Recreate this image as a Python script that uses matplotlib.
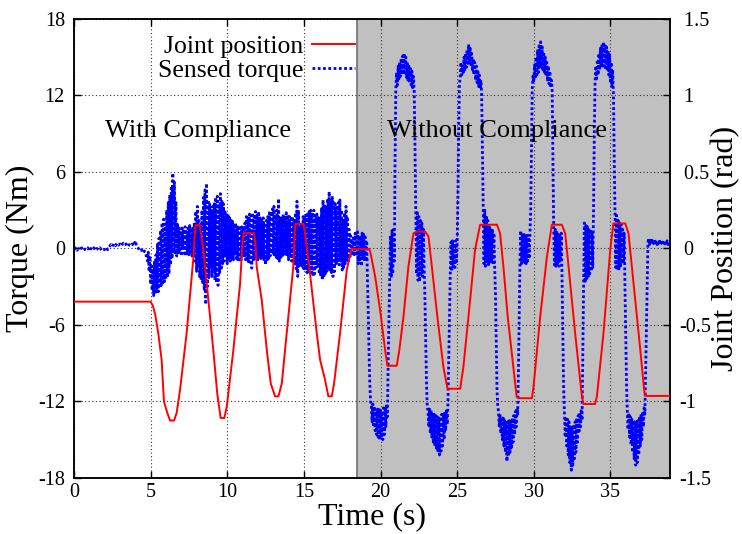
import matplotlib
matplotlib.use('Agg')
import matplotlib.pyplot as plt
import numpy as np

plt.rcParams['font.family'] = ['Liberation Serif', 'DejaVu Serif']
plt.rcParams['axes.unicode_minus'] = False

# joint position (rad), red curve
pos_t = [0.0, 5.0, 5.15, 5.3, 5.5, 5.72, 5.87, 6.09, 6.27, 6.53, 6.7, 6.92, 7.35, 7.6, 7.8,
         7.9, 7.96, 8.2, 8.28, 8.44, 8.77, 9.09, 9.35, 9.57, 9.81, 9.97, 10.4, 10.84, 11.0,
         11.07, 11.75, 11.85, 11.92, 12.25, 12.58, 12.84, 13.12, 13.34, 13.56, 13.88, 14.31,
         14.4, 14.45, 14.97, 15.05, 15.2, 15.35, 15.84, 16.06, 16.38, 16.6, 16.82, 16.97,
         17.36, 17.8, 18.1, 19.25, 19.32, 19.65, 19.97, 20.3, 20.45, 21.06, 21.23, 21.5,
         21.82, 22.15, 22.37, 22.91, 23.13, 23.35, 23.71, 24.1, 24.37, 25.2, 25.41, 25.74,
         26.17, 26.5, 27.6, 27.8, 28.02, 28.3, 28.88, 29.0, 29.88, 29.98, 30.42, 30.86,
         31.18, 31.83, 32.05, 32.27, 32.7, 33.14, 33.25, 34.0, 34.12, 34.55, 34.99, 35.2,
         35.97, 36.18, 36.51, 36.95, 37.21, 37.27, 38.9]
pos_rad = [-0.348, -0.348, -0.375, -0.433, -0.554, -0.729, -1.0, -1.075, -1.125, -1.125,
           -1.075, -0.925, -0.554, -0.275, -0.05, 0.133, 0.154, 0.154, 0.1, -0.008, -0.337,
           -0.663, -0.95, -1.108, -1.108, -1.033, -0.663, -0.228, 0.05, 0.1, 0.1, 0.017,
           -0.119, -0.337, -0.663, -0.883, -0.967, -0.967, -0.883, -0.554, -0.119, 0.1,
           0.16, 0.16, 0.117, 0.0, -0.119, -0.554, -0.729, -0.858, -0.967, -0.967, -0.883,
           -0.554, -0.141, -0.004, -0.004, -0.017, -0.183, -0.4, -0.663, -0.767, -0.767,
           -0.663, -0.446, -0.119, 0.099, 0.11, 0.11, 0.078, -0.119, -0.446, -0.773, -0.917,
           -0.917, -0.773, -0.446, -0.008, 0.155, 0.155, 0.099, -0.119, -0.446, -0.967,
           -0.979, -0.979, -0.908, -0.446, -0.053, 0.155, 0.155, 0.099, -0.119, -0.554,
           -0.967, -1.017, -1.017, -0.967, -0.554, -0.008, 0.163, 0.163, 0.099, -0.228,
           -0.663, -0.933, -0.964, -0.964]

# sensed torque (Nm)
torque_quiet = [-0.1, 0.05, -0.15, 0.0, -0.1, 0.05, -0.15, -0.05, -0.1, 0.05,
                -0.2, 0.0, -0.1, 0.05, -0.15, 0.0, -0.1, 0.05, -0.15, -0.05,
                -0.1, 0.1, -0.1, 0.1, 0.3, 0.15, 0.35, 0.2, 0.4, 0.25,
                0.35, 0.2, 0.4, 0.25, 0.35, 0.15, 0.3, 0.2, 0.35, 0.2,
                0.6, 0.1, 0.0, -0.2, -0.1, -0.35, -0.2, -0.5]      # 0.0 .. 4.7, every 0.1 s
torque_comp = [-1.0, -0.3, -1.8, -0.6, -2.8, -1.2, -3.3, -1.6, -3.7, -1.0,
               -3.6, -0.5, -3.5, 0.4, -3.4, 0.8, -3.1, 1.4, -2.9, 2.0,
               -2.7, 2.3, -2.6, 1.6, -2.4, 3.0, -2.3, 3.6, -2.0, 4.2,
               -1.3, 4.9, -0.8, 5.9, -0.3, 5.2, -0.5, 3.7, -0.6, 2.0,
               -0.5, 1.7, -0.3, 1.2, -0.6, 1.6, 0.0, 1.5, -0.4, 1.7,
               -0.6, 1.3, -0.2, 1.6, -0.5, 1.8, -0.3, 1.4, -0.6, 1.7,
               -0.5, 2.0, -1.0, 2.9, -1.8, 3.3, -1.2, 2.2, -2.2, 1.7,
               -2.5, 3.0, -2.8, 4.0, -3.3, 4.6, -4.4, 5.1, -3.0, 3.8,
               -2.3, 3.5, -1.5, 3.0, -2.2, 3.3, -1.8, 3.5, -2.5, 4.0,
               -2.7, 4.1, -2.9, 3.5, -2.0, 4.3, -1.7, 3.8, -1.2, 3.5,
               -1.0, 3.0, -0.6, 2.8, -1.2, 2.7, -0.8, 2.4, -1.0, 2.2,
               -0.8, 2.2, -0.9, 1.9, -0.5, 2.0, -0.8, 1.7, -1.0, 1.8,
               -0.9, 1.6, -1.0, 1.7, -0.5, 1.5, -0.7, 2.0, -0.9, 2.5,
               -1.0, 2.4, -1.2, 2.7, -1.1, 2.6, -1.55, 2.8, -1.0, 2.5,
               -0.8, 2.9, -0.7, 2.6, -0.9, 2.9, -0.6, 2.4, -0.8, 2.2,
               -0.6, 2.4, -1.0, 2.0, -1.3, 2.2, -1.0, 2.5, -0.8, 2.8,
               -0.6, 2.9, -0.4, 3.1, -0.5, 3.3, -0.7, 2.6, -0.8, 3.0,
               -0.8, 3.9, -1.0, 2.5, -0.8, 2.3, -0.7, 2.7, -0.5, 2.4,
               -0.6, 2.8, -0.5, 2.6, -0.9, 2.5, -0.7, 2.3, -1.0, 2.5,
               -1.0, 2.2, -1.2, 2.8, -1.6, 3.7, -2.2, 3.0, -1.5, 1.7,
               -1.3, 2.0, -1.4, 2.5, -1.6, 2.4, -1.7, 2.8, -1.9, 2.7,
               -2.0, 2.9, -1.8, 3.0, -2.1, 2.8, -2.2, 3.0, -2.0, 2.6,
               -1.5, 2.7, -1.3, 2.4, -2.0, 2.5, -2.2, 3.2, -2.5, 3.8,
               -2.3, 3.5, -2.0, 3.3, -1.8, 3.9, -1.55, 4.45, -1.7, 3.8,
               -1.9, 4.1, -2.2, 3.6, -1.8, 3.5, -1.2, 3.2, -1.0, 3.6,
               -1.3, 3.8, -1.0, 3.0, -1.7, 2.2, -1.5, 2.8, -1.2, 3.3,
               -0.9, 2.5, -1.0, 1.5, -0.8, 1.0, -0.5, 0.7, -0.6, 1.0,
               -0.5, 1.2, -0.6]                                  # 4.8 .. 18.4, every 0.05 s
torque_nocomp = [1.3, -1.2, 0.8, -0.9, 1.0, -1.4, 1.2, -0.6, 1.1, -1.0,
                 0.9, -0.8, 0.6, -2.5, -5.0, -8.0, -10.5, -12.0, -12.4, -13.6,
                 -12.2, -14.0, -12.4, -14.3, -12.8, -14.6, -12.6, -14.8, -12.5, -15.0,
                 -12.7, -14.9, -12.8, -15.0, -12.5, -14.6, -12.4, -14.0, -12.2, -13.2,
                 -9.0, -5.5, -2.5, 1.0, -2.3, 1.4, -2.0, 1.5, -1.0, 7.0,
                 12.5, 13.8, 12.8, 14.3, 13.3, 14.6, 13.5, 14.9, 13.6, 15.1,
                 13.7, 15.3, 13.6, 15.0, 13.4, 14.6, 13.1, 14.3, 13.0, 14.1,
                 12.8, 13.9, 12.6, 13.5, 12.3, 8.0, 3.0, -2.0, 2.8, -2.5,
                 2.5, -2.6, 2.2, -2.0, 2.0, -2.2, 1.5, -1.5, -4.0, -7.5,
                 -10.5, -12.5, -12.7, -14.0, -12.6, -14.5, -12.7, -14.8, -13.0, -15.3,
                 -13.0, -15.5, -13.1, -15.8, -13.2, -16.0, -13.3, -16.2, -13.2, -15.9,
                 -13.0, -15.5, -12.9, -15.0, -12.8, -14.3, -12.6, -13.8, -12.2, -9.0,
                 -5.5, -2.0, 0.5, -1.8, 0.6, -1.6, 0.4, -1.5, 0.6, -1.2,
                 0.3, 4.0, 9.0, 12.8, 13.5, 14.6, 13.6, 14.3, 13.8, 15.0,
                 14.0, 15.3, 14.2, 15.6, 14.5, 16.0, 14.6, 15.7, 14.4, 15.3,
                 14.0, 14.9, 13.6, 14.6, 13.2, 14.3, 13.0, 14.0, 12.7, 13.6,
                 12.5, 13.2, 12.1, 8.0, 3.4, -1.2, 3.0, -1.4, 2.6, -1.0,
                 2.2, -1.4, 1.8, -1.2, 1.6, -1.0, 1.5, -1.3, 1.2, -1.5,
                 -3.5, -7.0, -11.0, -12.4, -12.8, -14.0, -13.0, -14.5, -13.2, -15.0,
                 -13.3, -15.5, -13.4, -16.0, -13.5, -16.7, -13.6, -16.3, -13.5, -16.0,
                 -13.4, -15.6, -13.3, -15.2, -13.1, -14.6, -12.8, -14.0, -12.5, -13.0,
                 -9.5, -5.0, -1.0, 1.4, -1.2, 1.0, -1.0, 1.2, -1.1, 0.9,
                 -1.2, 1.2, -1.0, 0.9, -0.8, 1.0, 3.0, 8.0, 12.5, 13.5,
                 13.0, 14.4, 13.3, 15.0, 13.6, 15.6, 13.8, 15.9, 14.2, 16.2,
                 14.2, 15.8, 14.0, 15.4, 13.7, 15.0, 13.5, 14.6, 13.1, 14.3,
                 12.9, 13.9, 12.6, 13.2, 12.5, 7.0, 1.6, -1.3, 1.5, -1.4,
                 1.4, -1.2, 1.2, -1.4, 1.0, -1.0, 1.2, -3.0, -7.0, -11.0,
                 -13.0, -14.8, -13.2, -15.5, -13.4, -16.2, -13.6, -16.8, -14.0, -17.4,
                 -13.9, -17.0, -13.8, -16.5, -13.6, -16.0, -13.3, -15.2, -13.1, -14.5,
                 -12.9, -14.0, -12.6, -13.5, -8.0, -3.0, 2.0, -2.7, 1.8, -2.5,
                 1.7, -2.2, 1.6, -2.0, 1.5, -1.8, 1.2, -1.5, 3.0, 9.0,
                 13.0, 14.3, 13.3, 14.8, 13.6, 15.3, 14.0, 15.7, 14.2, 16.0,
                 14.3, 16.2, 14.3, 15.9, 14.0, 15.8, 13.9, 15.5, 13.6, 15.2,
                 13.1, 14.6, 12.6, 14.0, 12.0, 7.0, 2.8, -1.5, 2.6, -1.7,
                 2.2, -1.7, 2.0, -1.5, 1.9, -1.2, 1.5, -1.2, 1.2, -3.0,
                 -6.5, -10.5, -12.7, -14.2, -12.9, -14.8, -13.2, -15.4, -13.4, -16.0,
                 -13.5, -16.5, -13.6, -17.0, -13.6, -16.8, -13.5, -16.2, -13.2, -15.5,
                 -13.0, -15.0, -12.8, -14.0, -12.5, -13.0, -9.5, -6.0, -2.5, 0.5,
                 0.8, 0.3, 0.7, 0.4, 0.8, 0.3, 0.6, 0.4, 0.7, 0.3,
                 0.6, 0.3, 0.5, 0.4, 0.7, 0.3, 0.6, 0.4, 0.5, 0.3,
                 0.6, 0.35, 0.5, 0.4, 0.6, 0.3, 0.5, 0.4, 0.5]   # 18.5 .. 38.9, every 0.05 s

# (start time, sample step, values)
segments = [(0.0, 0.1, torque_quiet), (4.8, 0.05, torque_comp), (18.5, 0.05, torque_nocomp)]
tq_t = np.concatenate([t0 + dt * np.arange(len(v)) for t0, dt, v in segments])
tq = np.concatenate([np.array(v) for _, _, v in segments])

no_comp_start = 18.45
x_max = 38.9

fig = plt.figure(figsize=(7.42, 5.34), dpi=100)
ax = fig.add_axes([0.0997, 0.105, 0.8035, 0.8596])
ax2 = ax.twinx()

# shaded "without compliance" part
ax.axvspan(no_comp_start, x_max + 1, color='#c0c0c0', lw=0, zorder=0)
ax.axvline(no_comp_start, color='#7a7a7a', lw=1.3, zorder=0.6)

ax.grid(True, ls=(0, (1, 2.2)), color='#333333', lw=0.8)

blue, = ax.plot(tq_t, tq, color='#0000ff', lw=2.0, ls=(0, (1, 0.9)),
                dash_capstyle='butt', zorder=2)
red, = ax2.plot(pos_t, pos_rad, color='#ff0000', lw=1.4, zorder=3)

ax.set_xlim(0, x_max)
ax.set_ylim(-18, 18)
ax2.set_ylim(-1.5, 1.5)
ax.set_xticks([0, 5, 10, 15, 20, 25, 30, 35])
ax.set_yticks([-18, -12, -6, 0, 6, 12, 18])
ax2.set_yticks([-1.5, -1, -0.5, 0, 0.5, 1, 1.5])
ax2.set_yticklabels(['-1.5', '-1', '-0.5', ' 0', ' 0.5', ' 1', ' 1.5'])

ax.tick_params(axis='both', direction='in', length=5, width=1, labelsize=14.5, pad=6.5,
               top=True, right=False)
ax.tick_params(axis='x', pad=4)
ax2.tick_params(axis='y', direction='in', length=5, width=1, labelsize=14.5, pad=6.5)
for a in (ax, ax2):
    for s in a.spines.values():
        s.set_linewidth(1.1)
for lab in ax2.get_yticklabels():
    lab.set_horizontalalignment('left')

ax.set_xlabel('Time (s)', fontsize=23, labelpad=0)
ax.set_ylabel('Torque (Nm)', fontsize=23, labelpad=2)
ax2.set_ylabel('Joint Position (rad)', fontsize=23, labelpad=0)

ax.text(8.1, 9.2, 'With Compliance', fontsize=19, ha='center', va='center')
ax.text(27.6, 9.2, 'Without Compliance', fontsize=19, ha='center', va='center', zorder=5)

leg = ax2.legend([red, blue], ['Joint position', 'Sensed torque'], loc='upper right',
                 bbox_to_anchor=(0.4715, 0.965), frameon=False, fontsize=18.5,
                 markerfirst=False, handlelength=1.67, handletextpad=0.35,
                 labelspacing=0.05, borderpad=0, borderaxespad=0)

fig.savefig('out.png', dpi=100)
